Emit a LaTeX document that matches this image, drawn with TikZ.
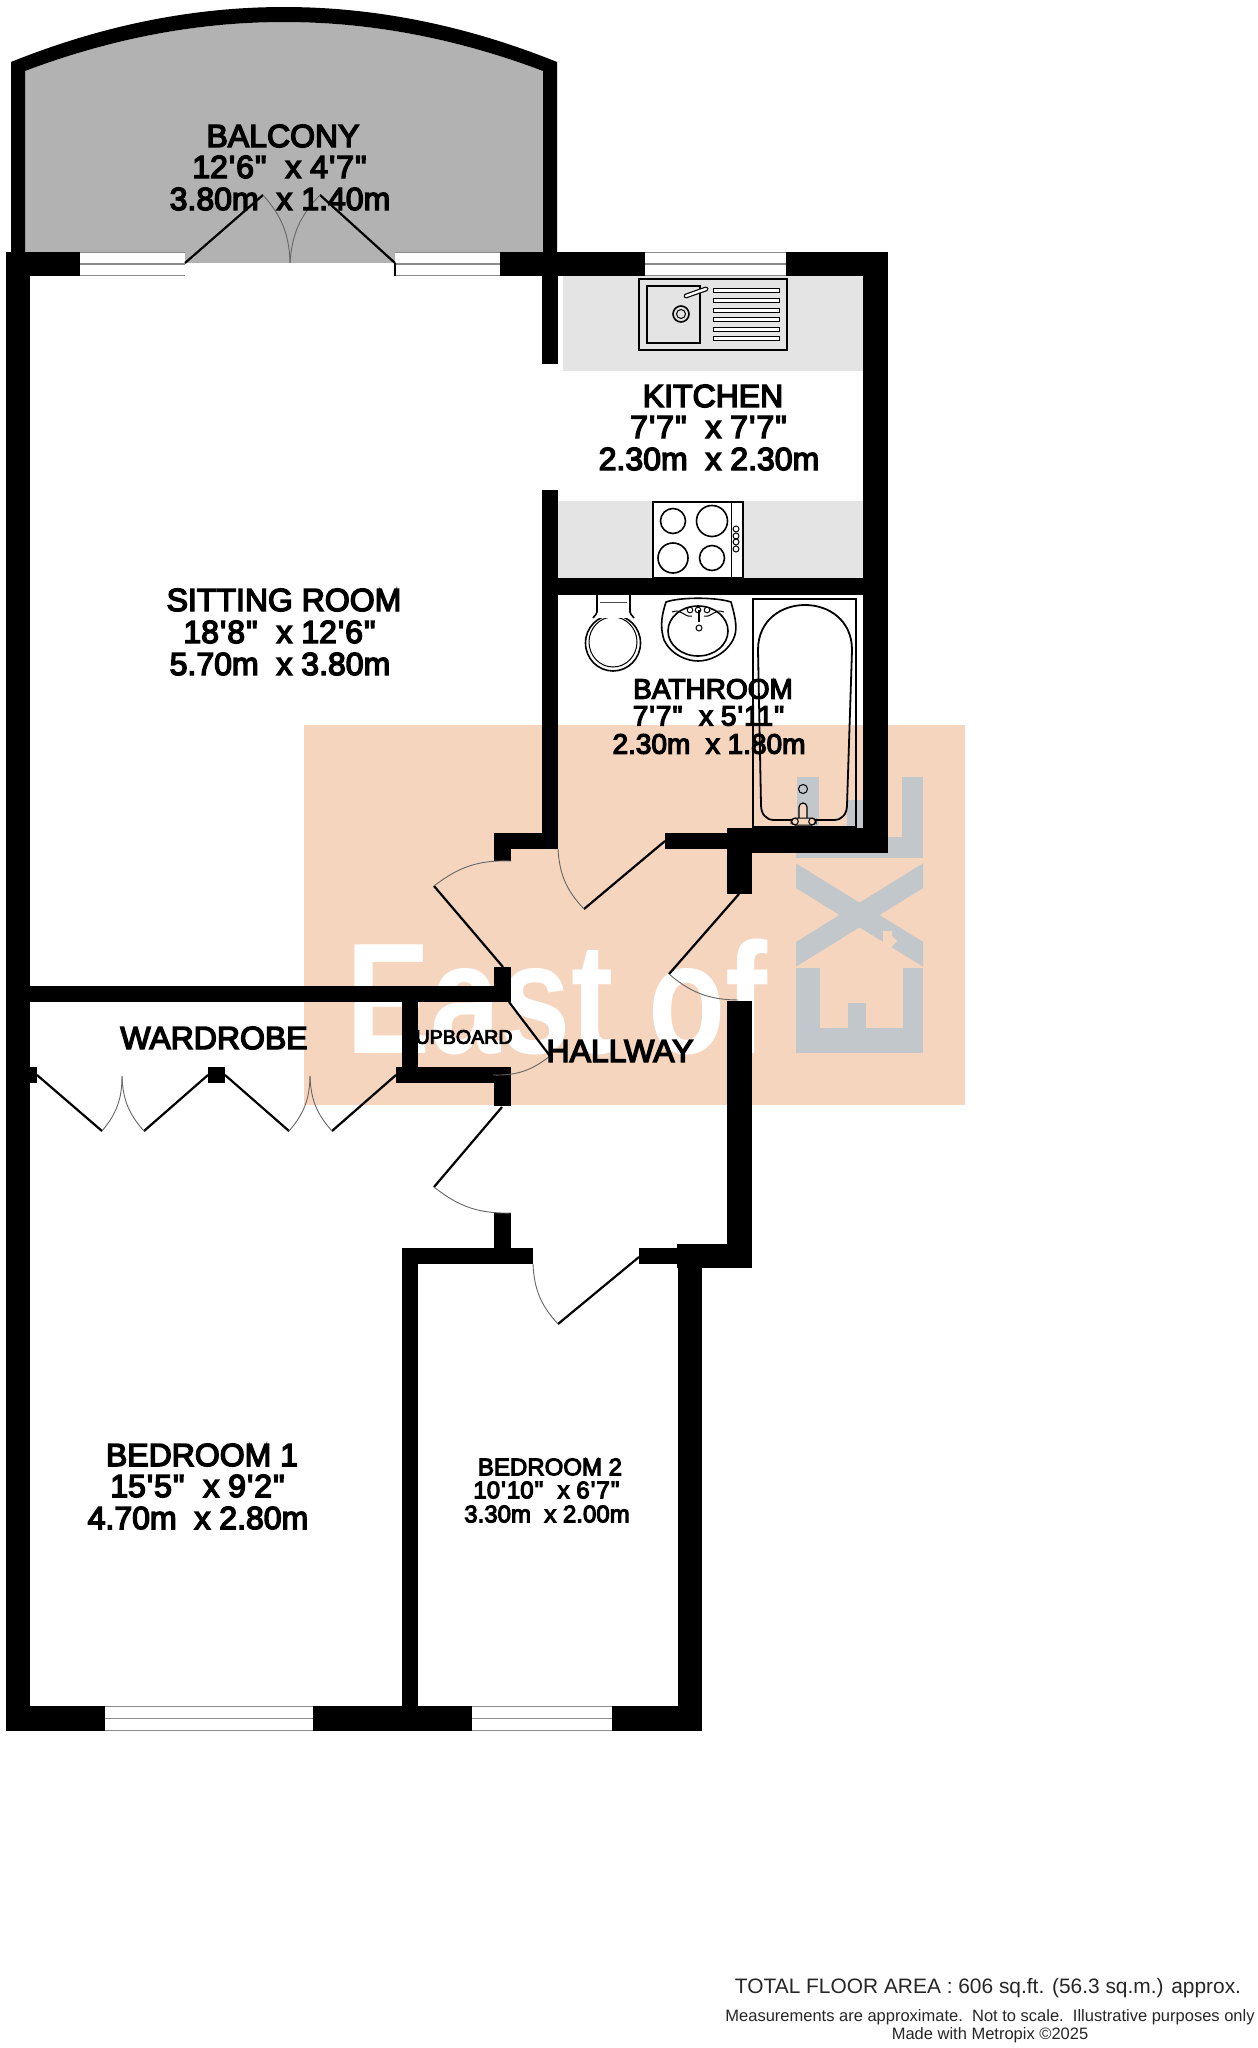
\documentclass[tikz,border=0pt]{standalone}
\usepackage{fontspec}
\setmainfont{Liberation Sans}
\newfontfamily\labfont[FakeBold=4.5,Ligatures=ResetAll]{Liberation Sans}
\newfontfamily\markfont{Liberation Sans Bold}
\definecolor{peach}{HTML}{F5D5BE}
\definecolor{slatemark}{HTML}{C1C7CB}
\definecolor{balconygrey}{HTML}{B2B2B2}
\definecolor{counter}{HTML}{E4E4E4}
\definecolor{winline}{HTML}{8A8A8A}
\tikzset{
  x=0.5pt,y=-0.5pt,
  leaf/.style={line width=1.1pt,black},
  swing/.style={line width=0.45pt,draw=black!60},
  fixture/.style={line width=0.8pt,black},
  thinfix/.style={line width=0.5pt,black},
  lab/.style={inner sep=0pt,font=\labfont\fontsize{16pt}{16pt}\selectfont},
  labmid/.style={inner sep=0pt,font=\labfont\fontsize{14pt}{14pt}\selectfont},
  labsmall/.style={inner sep=0pt,font=\labfont\fontsize{12pt}{12pt}\selectfont},
  labtiny/.style={inner sep=0pt,font=\labfont\fontsize{9.8pt}{9.8pt}\selectfont},
  foot/.style={inner sep=0pt,text=black!85},
}
\newcommand{\ftm}{\kern0.55pt'\kern0.55pt}
\newcommand{\inm}{\kern0.55pt"\kern0.55pt}
\newcommand{\wallrect}[4]{\fill[black] (#1,#2) rectangle (#3,#4);}
\newcommand{\hwin}[4]{%
  \fill[white] (#1,#2) rectangle (#3,#4);
  \draw[winline,line width=0.8pt] (#1,#2+0.5) -- (#3,#2+0.5);
  \draw[winline,line width=0.8pt] (#1,{(#2+#4)/2}) -- (#3,{(#2+#4)/2});
  \draw[winline,line width=0.8pt] (#1,#4-0.5) -- (#3,#4-0.5);}
\begin{document}
\begin{tikzpicture}
\useasboundingbox (0,0) rectangle (1257,2048);
\fill[white] (0,0) rectangle (1257,2048);
% watermark
\fill[peach] (304,725) rectangle (965,1105);
\node[anchor=base west,inner sep=0pt,text=white] (eastof) at (346,1053)
  {\scalebox{0.80}[1]{\markfont\fontsize{79pt}{79pt}\selectfont East of}};
\begin{scope}[slatemark]
  % top E
  \fill (796,837) rectangle (923,858);
  \fill (797,777) rectangle (819,858);
  \fill (847,800) rectangle (865,858);
  \fill (902,777) rectangle (923,858);
  % X
  \begin{scope}
    \clip (796,863) rectangle (923,967);
    \draw[line width=10.5pt] (790,872) -- (929,958);
    \draw[line width=10.5pt] (790,958) -- (929,872);
  \end{scope}
  % bottom E
  \fill (796,1028) rectangle (923,1053);
  \fill (796,968) rectangle (820,1053);
  \fill (848,1003) rectangle (866,1053);
  \fill (903,968) rectangle (923,1053);
\end{scope}
\fill[peach] (883,943) -- (883,931) -- (892,931) -- (892,936) -- (897,941) -- (889,950) -- cycle;
% balcony
\fill[balconygrey] (25,71) .. controls (198,5.7) and (370,5.7) .. (543,71) -- (543,263) -- (25,263) -- cycle;
\fill[black] (11,62) .. controls (193,-11.3) and (375,-11.3) .. (557,62) -- (557,262)
  -- (543,262) -- (543,71) .. controls (370,5.7) and (198,5.7) .. (25,71) -- (25,262) -- (11,262) -- cycle;
% counters
\fill[counter] (563,276) rectangle (863,371);
\fill[counter] (558,501) rectangle (863,578);
% walls, top row
\wallrect{6}{252}{80}{276}
\wallrect{500}{252}{645}{276}
\wallrect{786}{252}{888}{276}
\wallrect{6}{252}{30}{1731}
\wallrect{863}{252}{888}{853}
\wallrect{542}{252}{558}{364}
\wallrect{542}{490}{558}{849}
\wallrect{542}{578}{888}{595}
% hall walls
\wallrect{494}{833}{558}{849}
\wallrect{494}{833}{511}{861}
\wallrect{665}{833}{727}{849}
\wallrect{727}{828}{888}{853}
\wallrect{727}{828}{752}{894}
\wallrect{727}{1001}{752}{1268}
\wallrect{30}{986}{511}{1002}
\wallrect{494}{967}{511}{1002}
\wallrect{402}{986}{418}{1083}
\wallrect{396}{1067}{511}{1083}
\wallrect{494}{1067}{511}{1106}
\wallrect{30}{1067}{37}{1083}
\wallrect{208}{1067}{225}{1083}
\wallrect{402}{1248}{533}{1264}
\wallrect{494}{1213}{511}{1264}
\wallrect{639}{1248}{702}{1264}
\wallrect{677}{1244}{752}{1268}
\wallrect{402}{1248}{418}{1731}
\wallrect{678}{1244}{702}{1731}
% bottom row
\wallrect{6}{1706}{105}{1731}
\wallrect{313}{1706}{472}{1731}
\wallrect{612}{1706}{702}{1731}
% windows
\hwin{80}{252}{185}{276}
\hwin{395}{252}{500}{276}
\hwin{645}{252}{786}{276}
\hwin{105}{1706}{313}{1731}
\hwin{472}{1706}{612}{1731}
% sink
\draw[line width=1.1pt] (639,279) rectangle (787,350);
\draw[fixture] (647,286) rectangle (700,343);
\draw[fixture] (681,314) circle (8);
\draw[thinfix] (681,314) circle (4.5);
\foreach \yy in {289,298.6,308.2,317.8,327.4,337}
  \draw[thinfix,fill=white] (713,\yy) rectangle (779,\yy+4);
\draw[black,line width=2.4pt,line cap=round] (686,296) -- (700,291) -- (706,289);
\draw[white,line width=1.2pt,line cap=round] (686,296) -- (700,291) -- (706,289);
% hob
\draw[line width=1pt,fill=white] (653,502) rectangle (743,578);
\draw[thinfix] (731,502) -- (731,578);
\draw[fixture] (673,521) circle (12.5);
\draw[fixture] (712,521) circle (15.5);
\draw[fixture] (673,558) circle (15);
\draw[fixture] (712,558) circle (12.5);
\foreach \yy in {529,536,542,549} \draw[thinfix] (736,\yy) circle (3);
% toilet
\draw[fixture,fill=white] (613,643) ellipse (27.5 and 28);
\draw[thinfix] (613,642) ellipse (24 and 25);
\fill[white] (598,596) rectangle (629,618);
\draw[fixture] (597,595) -- (597,612) .. controls (597,614) and (595,615) .. (593,618);
\draw[fixture] (630,595) -- (630,612) .. controls (630,614) and (632,615) .. (634,618);
\draw[thinfix,draw=black!70] (600,602) -- (627,602);
% basin
\draw[fixture] (666,602) .. controls (680,597) and (716,597) .. (731,602)
  .. controls (736,620) and (738,630) .. (733,640)
  .. controls (724,656) and (708,661) .. (698,661)
  .. controls (688,661) and (672,656) .. (664,640)
  .. controls (661,630) and (660,620) .. (666,602) -- cycle;
\draw[fixture] (698,631) ellipse (30 and 25);
\draw[thinfix] (672,612) .. controls (682,608) and (684,618) .. (692,616);
\draw[thinfix] (724,612) .. controls (714,608) and (712,618) .. (704,616);
\draw[thinfix,fill=white] (690,610) circle (2.8);
\draw[thinfix,fill=white] (698,610) circle (2.8);
\draw[thinfix,fill=white] (707,610) circle (2.8);
\draw[fixture] (699,610) -- (699,622);
\draw[thinfix] (699,628) circle (3);
% bath
\draw[thinfix,line width=0.6pt] (753,599) rectangle (856,827);
\draw[fixture,line width=0.9pt] (761,805) -- (758,650) .. controls (758,590) and (852,590) .. (852,650)
  -- (847,805) .. controls (847,814) and (842,820) .. (834,820) -- (774,820)
  .. controls (766,820) and (761,814) .. (761,805) -- cycle;
\draw[thinfix] (803,789) circle (4.5);
\draw[thinfix,fill=peach,line width=0.6pt,rounded corners=2pt] (799,822) -- (799,803) -- (807,803) -- (807,822) -- cycle;
\draw[thinfix,fill=peach,rounded corners=2pt] (791,818) rectangle (816,825);
\draw[thinfix] (795,821.5) circle (3.3);
\draw[thinfix] (812,821.5) circle (3.3);
% door leaves
\draw[leaf] (185,263) -- (263,195);
\draw[leaf] (395,263) -- (320,195);
\draw[leaf] (395,263) -- (395,276);
\draw[leaf] (665,841) -- (584,909);
\draw[leaf] (503,967) -- (434,886);
\draw[leaf] (739,894) -- (669,974);
\draw[leaf] (509,1002) -- (550,1056);
\draw[leaf] (502,1107) -- (434,1187);
\draw[leaf] (639,1257) -- (558,1324);
\draw[leaf] (37,1075) -- (102,1131);
\draw[leaf] (144,1131) -- (208,1075);
\draw[leaf] (225,1075) -- (289,1131);
\draw[leaf] (332,1131) -- (396,1075);
% swings
\draw[swing] (263,195) to[bend left=20] (290,263);
\draw[swing] (320,195) to[bend right=20] (290,263);
\draw[swing] (558,849) to[bend right=20] (584,909);
\draw[swing] (434,886) to[bend left=20] (511,861);
\draw[swing] (669,974) to[bend right=20] (738,1000);
\draw[swing] (550,1056) to[bend left=20] (493,1075);
\draw[swing] (434,1187) to[bend right=20] (511,1213);
\draw[swing] (533,1264) to[bend right=20] (558,1324);
\draw[swing] (102,1131) to[bend right=20] (122,1076);
\draw[swing] (144,1131) to[bend left=20] (122,1076);
\draw[swing] (289,1131) to[bend right=20] (310,1076);
\draw[swing] (332,1131) to[bend left=20] (310,1076);
% labels
\node[lab] (balconya) at (283,136) {BALCONY};
\node[lab] (balconyb) at (280,167) {12\ftm 6\inm\ \ x 4\ftm 7\inm};
\node[lab] (balconyc) at (280,199) {3.80m\ \ x 1.40m};
\node[lab] (kitchena) at (713,396) {KITCHEN};
\node[lab] (kitchenb) at (709,427) {7\ftm 7\inm\ \ x 7\ftm 7\inm};
\node[lab] (kitchenc) at (709,459) {2.30m\ \ x 2.30m};
\node[labmid] (batha) at (713,689) {BATHROOM};
\node[labmid] (bathb) at (709,716) {7\ftm 7\inm\ \ x 5\ftm 11\inm};
\node[labmid] (bathc) at (709,744) {2.30m\ \ x 1.80m};
\node[lab] (sita) at (284,600) {SITTING ROOM};
\node[lab] (sitb) at (280,632) {18\ftm 8\inm\ \ x 12\ftm 6\inm};
\node[lab] (sitc) at (280,664) {5.70m\ \ x 3.80m};
\node[lab] (wardrobe) at (214,1038) {WARDROBE};
\node[labtiny] (cupboard) at (457,1037) {CUPBOARD};
\node[lab] (hallway) at (620,1051) {HALLWAY};
\node[lab] (beda) at (202,1455) {BEDROOM 1};
\node[lab] (bedb) at (198,1486) {15\ftm 5\inm\ \ x 9\ftm 2\inm};
\node[lab] (bedc) at (198,1518) {4.70m\ \ x 2.80m};
\node[labsmall] (bedta) at (550,1467) {BEDROOM 2};
\node[labsmall] (bedtb) at (547,1490) {10\ftm 10\inm\ \ x 6\ftm 7\inm};
\node[labsmall] (bedtc) at (547,1514) {3.30m\ \ x 2.00m};
\node[foot,font=\fontsize{10.45pt}{10.45pt}\selectfont] (totalarea) at (988,1988) {TOTAL FLOOR AREA : 606 sq.ft. (56.3 sq.m.) approx.};
\node[foot,font=\fontsize{8.25pt}{8.25pt}\selectfont] (measure) at (990,2017) {Measurements are approximate.\ \ Not to scale.\ \ Illustrative purposes only};
\node[foot,font=\fontsize{8.25pt}{8.25pt}\selectfont] (made) at (990,2035) {Made with Metropix ©2025};
\end{tikzpicture}
\end{document}
